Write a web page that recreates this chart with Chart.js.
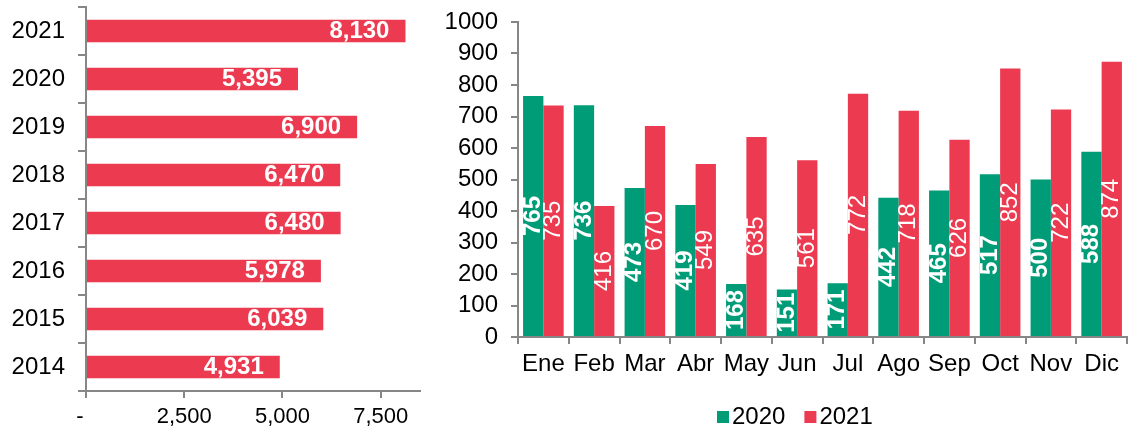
<!DOCTYPE html>
<html>
<head>
<meta charset="utf-8">
<script src="https://cdn.jsdelivr.net/npm/chart.js@4.4.1/dist/chart.umd.min.js"></script>
<style>
html, body { margin: 0; padding: 0; background: #ffffff; overflow: hidden; }
#wrap { position: relative; width: 1128px; height: 431px; }
#wrap canvas { position: absolute; left: 0; top: 0; }
</style>
</head>
<body>
<div id="wrap">
  <canvas id="annual" width="1128" height="431" style="width:1128px;height:431px"></canvas>
  <canvas id="monthly" width="1128" height="431" style="width:1128px;height:431px"></canvas>
</div>
<script>
// ---------- data ----------
const years = ['2021', '2020', '2019', '2018', '2017', '2016', '2015', '2014'];
const annualTotals = [8130, 5395, 6900, 6470, 6480, 5978, 6039, 4931];
const annualTickValues = [0, 2500, 5000, 7500];
const annualTickLabels = ['-', '2,500', '5,000', '7,500'];

const months = ['Ene', 'Feb', 'Mar', 'Abr', 'May', 'Jun', 'Jul', 'Ago', 'Sep', 'Oct', 'Nov', 'Dic'];
const seriesLabels = ['2020', '2021'];
const values2020 = [765, 736, 473, 419, 168, 151, 171, 442, 465, 517, 500, 588];
const values2021 = [735, 416, 670, 549, 635, 561, 772, 718, 626, 852, 722, 874];
const monthlyTickValues = [0, 100, 200, 300, 400, 500, 600, 700, 800, 900, 1000];

// ---------- style ----------
const GREEN = '#009B77';
const RED = '#EC3A50';
const AXIS = '#878787';
const FAMILY = '"Liberation Sans", Arial, Helvetica, sans-serif';
Chart.defaults.font.family = FAMILY;
Chart.defaults.color = '#000000';

function thousands(v) { return String(v).replace(/\B(?=(\d{3})+(?!\d))/g, ','); }

const axisGrid = (len) => ({ display: true, drawOnChartArea: false, drawTicks: true, tickLength: len, color: AXIS, lineWidth: 2 });
const axisBorder = { display: true, color: AXIS, width: 2 };

// ---------- annual (horizontal) chart ----------
const annualLabels = {
  id: 'annualLabels',
  afterDatasetsDraw(chart) {
    const ctx = chart.ctx;
    const meta = chart.getDatasetMeta(0);
    const data = chart.data.datasets[0].data;
    ctx.save();
    ctx.font = 'bold 24px ' + FAMILY;
    ctx.fillStyle = '#ffffff';
    ctx.textAlign = 'right';
    ctx.textBaseline = 'middle';
    meta.data.forEach((bar, i) => {
      ctx.fillText(thousands(data[i]), bar.x - 16, bar.y);
    });
    ctx.restore();
  }
};

new Chart(document.getElementById('annual'), {
  type: 'bar',
  data: {
    labels: years,
    datasets: [{ data: annualTotals, backgroundColor: RED, borderWidth: 0, barPercentage: 0.47, categoryPercentage: 1 }]
  },
  options: {
    indexAxis: 'y',
    responsive: false,
    animation: false,
    devicePixelRatio: 1,
    layout: { padding: { left: 0, top: 7, right: 708, bottom: 0 } },
    plugins: { legend: { display: false }, tooltip: { enabled: false } },
    scales: {
      x: {
        min: 0, max: 8500,
        afterBuildTicks: s => { s.ticks = annualTickValues.map(v => ({ value: v })); },
        ticks: {
          autoSkip: false, maxRotation: 0, minRotation: 0, padding: 6,
          color: '#000', font: { size: 22 },
          callback: (v, i) => annualTickLabels[i] === '-' ? '-  ' : annualTickLabels[i]
        },
        grid: axisGrid(7),
        border: axisBorder,
        afterFit: s => { s.height = 40; s.paddingLeft = 0; s.paddingRight = 0; }
      },
      y: {
        ticks: { padding: 13, color: '#000', font: { size: 24 }, autoSkip: false },
        grid: axisGrid(8),
        border: axisBorder,
        afterFit: s => { s.width = 86; s.paddingTop = 0; s.paddingBottom = 0; }
      }
    }
  },
  plugins: [annualLabels]
});

// ---------- monthly (vertical) chart ----------
const monthlyLabels = {
  id: 'monthlyLabels',
  afterDatasetsDraw(chart) {
    const ctx = chart.ctx;
    chart.data.datasets.forEach((ds, di) => {
      const meta = chart.getDatasetMeta(di);
      meta.data.forEach((bar, i) => {
        ctx.save();
        ctx.font = (di === 0 ? 'bold ' : '') + '24px ' + FAMILY;
        ctx.fillStyle = '#ffffff';
        ctx.textAlign = 'center';
        ctx.textBaseline = 'middle';
        ctx.translate(bar.x, (bar.y + bar.base) / 2);
        ctx.rotate(-Math.PI / 2);
        ctx.fillText(String(ds.data[i]), 0, 0);
        ctx.restore();
      });
    });
  }
};

const customLegend = {
  id: 'customLegend',
  afterDraw(chart) {
    const ctx = chart.ctx;
    ctx.save();
    ctx.font = '24px ' + FAMILY;
    ctx.textAlign = 'left';
    ctx.textBaseline = 'middle';
    let x = 717;
    const y = 417;
    chart.data.datasets.forEach(ds => {
      ctx.fillStyle = ds.backgroundColor;
      ctx.fillRect(x, y - 6, 12, 12);
      ctx.fillStyle = '#000';
      ctx.fillText(ds.label, x + 15, y);
      x += 15 + ctx.measureText(ds.label).width + 19;
    });
    ctx.restore();
  }
};

new Chart(document.getElementById('monthly'), {
  type: 'bar',
  data: {
    labels: months,
    datasets: [
      { label: seriesLabels[0], data: values2020, backgroundColor: GREEN, borderWidth: 0, categoryPercentage: 0.8, barPercentage: 1 },
      { label: seriesLabels[1], data: values2021, backgroundColor: RED, borderWidth: 0, categoryPercentage: 0.8, barPercentage: 1 }
    ]
  },
  options: {
    responsive: false,
    animation: false,
    devicePixelRatio: 1,
    layout: { padding: { left: 420, right: 1, top: 22, bottom: 44 } },
    plugins: { legend: { display: false }, tooltip: { enabled: false } },
    scales: {
      x: {
        ticks: { autoSkip: false, maxRotation: 0, minRotation: 0, padding: 6, color: '#000', font: { size: 24 } },
        grid: axisGrid(7),
        border: axisBorder,
        afterFit: s => { s.height = 50; s.paddingLeft = 0; s.paddingRight = 0; }
      },
      y: {
        min: 0, max: 1000,
        afterBuildTicks: s => { s.ticks = monthlyTickValues.map(v => ({ value: v })); },
        ticks: { autoSkip: false, padding: 13, color: '#000', font: { size: 24 }, callback: v => String(v) },
        grid: axisGrid(7),
        border: axisBorder,
        afterFit: s => { s.width = 98; s.paddingTop = 0; s.paddingBottom = 0; }
      }
    }
  },
  plugins: [monthlyLabels, customLegend]
});
</script>
</body>
</html>
